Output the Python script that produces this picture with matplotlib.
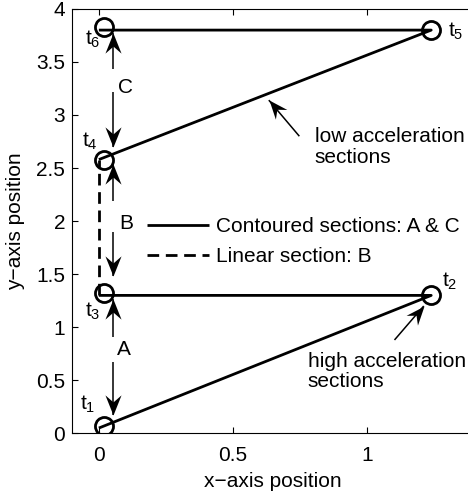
import numpy as np
import matplotlib
matplotlib.use("Agg")
import matplotlib.pyplot as plt
from matplotlib.path import Path
from matplotlib.markers import MarkerStyle
from matplotlib.transforms import Affine2D

plt.rcParams["font.family"] = ["Liberation Sans", "DejaVu Sans"]
plt.rcParams["mathtext.fontset"] = "custom"
plt.rcParams["mathtext.rm"] = "Liberation Sans"
plt.rcParams["mathtext.it"] = "Liberation Sans"
FS = 15
plt.rcParams["font.size"] = FS

# Trajectory sections (x, y)
contour_a_x = [0.0, 1.24, 0.0]
contour_a_y = [0.05, 1.30, 1.30]
linear_b_x = [0.0, 0.0]
linear_b_y = [1.30, 2.58]
contour_c_x = [0.0, 1.24, 0.0]
contour_c_y = [2.58, 3.80, 3.80]

# Waypoints t1..t6
way_x = [0.02, 1.24, 0.02, 0.02, 1.24, 0.02]
way_y = [0.07, 1.30, 1.32, 2.58, 3.80, 3.83]
way_names = ["1", "2", "3", "4", "5", "6"]
way_label_x = [-0.012, 1.282, 0.006, -0.004, 1.304, 0.006]
way_label_y = [0.22, 1.38, 1.10, 2.70, 3.74, 3.66]
way_label_ha = ["right", "left", "right", "right", "left", "right"]

# Section spans: (label, label_y, up arrow tail, up arrow tip, down arrow tail, down arrow tip)
span_x = 0.052
span_names = ["A", "B", "C"]
span_label_x = [0.093, 0.103, 0.100]
span_label_y = [0.79, 1.98, 3.26]
span_up = [(0.91, 1.27), (2.19, 2.54), (3.43, 3.77)]
span_down = [(0.675, 0.17), (1.90, 1.48), (3.22, 2.70)]

# Callouts: text, text pos, arrow tail, arrow tip
callout_text = ["low acceleration\nsections", "high acceleration\nsections"]
callout_pos = [(0.805, 2.70), (0.779, 0.585)]
callout_tail = [(0.748, 2.80), (1.103, 0.88)]
callout_tip = [(0.634, 3.14), (1.212, 1.20)]

fig = plt.figure(figsize=(4.68, 4.93), dpi=100)
ax = fig.add_axes([0.154, 0.121, 0.859, 0.861])
ax.set_xlim(-0.1, 1.4)
ax.set_ylim(0, 4)

lw = 2.0
la, = ax.plot(contour_a_x, contour_a_y, color="black", lw=lw, solid_capstyle="butt")
ax.plot(contour_c_x, contour_c_y, color="black", lw=lw, solid_capstyle="butt")
lb, = ax.plot(linear_b_x, linear_b_y, color="black", lw=lw, ls=(0, (4.2, 2.4)))
ax.plot(way_x, way_y, ls="none", marker="o", ms=13, mfc="none", mec="black", mew=2.0)

for nm, tx, ty, ha in zip(way_names, way_label_x, way_label_y, way_label_ha):
    ax.text(tx, ty, r"$\mathrm{t}_{%s}$" % nm, ha=ha, va="baseline", fontsize=FS)

# Concave arrowhead, tip at origin, pointing up
head_path = Path([(0, 0), (-0.4, -1.0), (0, -0.65), (0.4, -1.0), (0, 0)],
                 [Path.MOVETO, Path.LINETO, Path.LINETO, Path.LINETO, Path.CLOSEPOLY])


def draw_arrow(x0, y0, x1, y1, size=29):
    ax.plot([x0, x1], [y0, y1], color="black", lw=1.1, solid_capstyle="butt")
    p0 = ax.transData.transform((x0, y0))
    p1 = ax.transData.transform((x1, y1))
    ang = np.degrees(np.arctan2(p1[1] - p0[1], p1[0] - p0[0])) - 90
    m = MarkerStyle(head_path, transform=Affine2D().rotate_deg(ang))
    ax.plot([x1], [y1], ls="none", marker=m, ms=size, color="black", mew=0)


for nm, lx, ly, up, dn in zip(span_names, span_label_x, span_label_y, span_up, span_down):
    ax.text(lx, ly, nm, ha="center", va="center", fontsize=FS)
    draw_arrow(span_x, up[0], span_x, up[1])
    draw_arrow(span_x, dn[0], span_x, dn[1])

for txt, pos, tail, tip in zip(callout_text, callout_pos, callout_tail, callout_tip):
    ax.text(pos[0], pos[1], txt, ha="left", va="center", fontsize=FS, linespacing=1.1)
    draw_arrow(tail[0], tail[1], tip[0], tip[1], size=27)

ax.legend([la, lb], ["Contoured sections: A & C", "Linear section: B"],
          loc="upper left", bbox_to_anchor=(0.186, 0.510), frameon=False,
          borderpad=0, borderaxespad=0, handlelength=3.0, handletextpad=0.3,
          labelspacing=0.55, fontsize=FS)

ax.set_xticks([0, 0.5, 1])
ax.set_xticklabels(["0", "0.5", "1"])
ax.set_yticks(np.arange(0, 4.01, 0.5))
ax.set_yticklabels(["0", "0.5", "1", "1.5", "2", "2.5", "3", "3.5", "4"])
ax.tick_params(direction="in", length=4, width=0.8, top=True, right=True)
ax.tick_params(axis="x", pad=9)
ax.tick_params(axis="y", pad=5)
for s in ax.spines.values():
    s.set_linewidth(0.8)

ax.set_xlabel("x\u2212axis position", fontsize=FS, labelpad=5)
ax.set_ylabel("y\u2212axis position", fontsize=FS, labelpad=8)

fig.savefig("out.png", dpi=100)
